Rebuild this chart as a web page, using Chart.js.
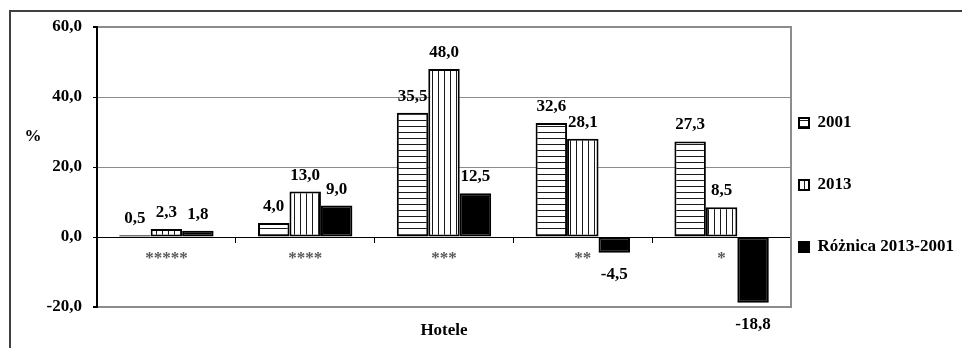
<!DOCTYPE html>
<html lang="pl">
<head>
<meta charset="utf-8">
<title>Hotele – struktura 2001 i 2013</title>
<script src="https://cdn.jsdelivr.net/npm/chart.js@4/dist/chart.umd.min.js"></script>
<style>
  html, body { margin: 0; padding: 0; background: #fff; }
  #wrap { position: relative; width: 962px; height: 348px; overflow: hidden; }
  #frame {
    position: absolute; left: 9px; top: 10px; right: -10px; bottom: -10px;
    border-top: 2px solid #404040; border-left: 2px solid #404040;
  }
  #hotelChart { position: absolute; left: 0; top: 0; }
</style>
</head>
<body>
<div id="wrap">
  <div id="frame"></div>
  <canvas id="hotelChart" width="962" height="348"></canvas>
</div>
<script>
// hotel categories (stars) and shares in %
const categories = ['*****', '****', '***', '**', '*'];
const share2001 = [0.5, 4.0, 35.5, 32.6, 27.3];
const share2013 = [2.3, 13.0, 48.0, 28.1, 8.5];
const difference = [1.8, 9.0, 12.5, -4.5, -18.8];
const yTicks = [-20, 0, 20, 40, 60];

const FONT = 'Liberation Serif';
const fmt = v => Number(v).toFixed(1).replace('.', ',');

// striped fills for the two year series
function stripes(vertical) {
    const tile = document.createElement('canvas');
    tile.width = 6;
    tile.height = 6;
    const g = tile.getContext('2d');
    g.fillStyle = '#fff';
    g.fillRect(0, 0, 6, 6);
    g.fillStyle = '#1a1a1a';
    if (vertical) g.fillRect(0, 0, 1, 6);
    else g.fillRect(0, 0, 6, 1);
    return g.createPattern(tile, 'repeat');
}

Chart.defaults.font.family = FONT;
Chart.defaults.font.size = 17;
Chart.defaults.font.weight = 'bold';
Chart.defaults.color = '#000';

// value printed above (or below, for negatives) each bar
const valueLabels = {
    id: 'valueLabels',
    afterDatasetsDraw(chart) {
        const ctx = chart.ctx;
        ctx.save();
        ctx.font = `bold 17px "${FONT}"`;
        ctx.fillStyle = '#000';
        ctx.textAlign = 'center';
        ctx.textBaseline = 'alphabetic';
        chart.data.datasets.forEach((ds, i) => {
            chart.getDatasetMeta(i).data.forEach((bar, j) => {
                const v = ds.data[j];
                ctx.fillText(fmt(v), bar.x, v < 0 ? bar.y + 26 : bar.y - 12);
            });
        });
        ctx.restore();
    }
};

// right edge of the plot box + horizontal "%" unit label
const plotExtras = {
    id: 'plotExtras',
    beforeDatasetsDraw(chart) {
        const { ctx, chartArea } = chart;
        ctx.save();
        ctx.strokeStyle = '#8c8c8c';
        ctx.lineWidth = 2;
        ctx.beginPath();
        ctx.moveTo(chartArea.right, chartArea.top - 1);
        ctx.lineTo(chartArea.right, chartArea.bottom + 1);
        ctx.stroke();

        ctx.font = `bold 17px "${FONT}"`;
        ctx.fillStyle = '#000';
        ctx.textAlign = 'center';
        ctx.textBaseline = 'middle';
        ctx.fillText('%', chartArea.left - 64, chartArea.top + 110);
        ctx.restore();
    }
};

// pull the legend column closer to the plot
const legendNudge = {
    id: 'legendNudge',
    afterLayout(chart) {
        const lg = chart.legend;
        lg.left = chart.chartArea.right + 8 - lg.options.labels.padding;
    }
};

new Chart(document.getElementById('hotelChart'), {
    type: 'bar',
    data: {
        labels: categories,
        datasets: [{
            label: '2001',
            data: share2001,
            backgroundColor: stripes(false),
            borderColor: '#000',
            borderWidth: 2,
            borderSkipped: false
        }, {
            label: '2013',
            data: share2013,
            backgroundColor: stripes(true),
            borderColor: '#000',
            borderWidth: 2,
            borderSkipped: false
        }, {
            label: 'Różnica 2013-2001',
            data: difference,
            backgroundColor: '#000',
            borderColor: '#000',
            borderWidth: 2,
            borderSkipped: false
        }]
    },
    options: {
        responsive: false,
        animation: false,
        layout: { padding: { top: 27, bottom: 5 } },
        datasets: { bar: { categoryPercentage: 0.68, barPercentage: 1 } },
        plugins: {
            legend: {
                position: 'right',
                maxWidth: 171,
                labels: {
                    boxWidth: 10,
                    boxHeight: 10,
                    padding: 45,
                    color: '#000',
                    font: { family: FONT, size: 17, weight: 'bold' }
                }
            },
            tooltip: { enabled: false }
        },
        scales: {
            x: {
                position: { y: 0 },
                grid: { offset: true, drawOnChartArea: false, tickLength: 5, color: '#000' },
                border: { color: '#000', width: 1 },
                ticks: { padding: 6, color: '#595959' }
            },
            x2: {
                type: 'category',
                position: 'bottom',
                grid: { display: false },
                border: { display: false },
                ticks: { display: false },
                title: { display: true, text: 'Hotele', color: '#000', padding: { top: 0, bottom: 2 } },
                afterFit: s => { s.height = 36; }
            },
            y: {
                min: yTicks[0],
                max: yTicks[yTicks.length - 1],
                ticks: {
                    stepSize: yTicks[1] - yTicks[0],
                    padding: 11,
                    color: '#000',
                    callback: v => fmt(v)
                },
                grid: {
                    tickLength: 4,
                    tickColor: '#000',
                    color: c => c.tick.value === 0 ? '#000' : '#8c8c8c',
                    lineWidth: c => (c.tick.value === yTicks[0] || c.tick.value === yTicks[yTicks.length - 1]) ? 2 : 1
                },
                border: { color: '#000', width: 2 },
                afterFit: s => { s.width = 97; }
            }
        }
    },
    plugins: [valueLabels, plotExtras, legendNudge]
});
</script>
</body>
</html>
